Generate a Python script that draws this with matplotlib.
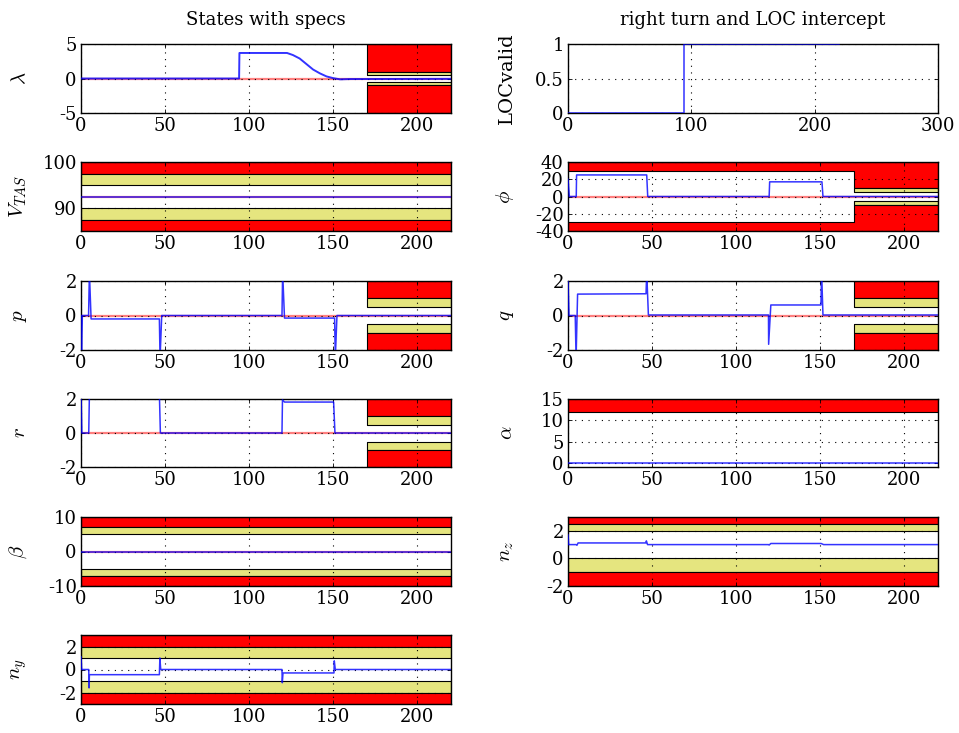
import matplotlib
matplotlib.use('Agg')
import matplotlib.pyplot as plt
import numpy as np

plt.rcParams['font.family'] = 'DejaVu Serif'
plt.rcParams['mathtext.fontset'] = 'cm'
plt.rcParams['axes.unicode_minus'] = False
plt.rcParams['font.size'] = 13

RED = '#ff0000'
YEL = '#e5e57f'

# time histories (t [s], value)
lam_t = [0, 94, 94.2, 122.5, 126, 130, 134, 138, 142, 146, 150, 154, 160, 220]
lam_v = [0, 0, 3.7, 3.7, 3.4, 2.9, 2.1, 1.3, 0.75, 0.3, 0.05, -0.12, -0.08, -0.05]

loc_t = [0, 94, 94, 220]
loc_v = [0, 0, 1, 1]

vtas_t = [0, 220]
vtas_v = [92.5, 92.5]

phi_t = [0, 0.8, 4.9, 5.1, 46.8, 47.4, 119.6, 119.9, 151.0, 151.6, 220]
phi_v = [20, 0, 0, 25, 25, 0, 0, 17, 17, 0, 0]

p_t = [0, 0.3, 0.8, 4.5, 5.0, 6.0, 46.6, 47.0, 48.0, 119.5, 119.9, 121.0, 150.8, 151.2, 152.2, 220]
p_v = [0, -2.5, 0, 0, 2.5, -0.2, -0.2, -2.5, 0, 0, 2.5, -0.15, -0.15, -2.5, 0, 0]

q_t = [0, 0.6, 4.3, 4.8, 5.7, 46.4, 46.8, 47.8, 119.2, 119.3, 120.6, 150.4, 150.8, 151.6, 220]
q_v = [2.0, 0, 0, -2.5, 1.24, 1.26, 2.5, 0.03, 0.03, -1.67, 0.61, 0.61, 2.5, 0.03, 0.03]

r_t = [0, 0.5, 4.6, 5.0, 46.6, 47.2, 119.5, 119.8, 121, 150.2, 151, 220]
r_v = [2.3, 0, 0, 2.3, 2.3, 0, 0, 1.95, 1.82, 1.82, 0, 0]

alpha_t = [0, 220]
alpha_v = [0.15, 0.15]

beta_t = [0, 220]
beta_v = [0, 0]

nz_t = [0, 0.4, 4.9, 5.3, 6.0, 46.3, 46.6, 47.3, 119.2, 119.6, 120.6, 150.5, 152.0, 220]
nz_v = [1.7, 1.0, 1.0, 0.95, 1.12, 1.12, 1.27, 1.0, 1.0, 0.97, 1.08, 1.08, 1.0, 1.0]

ny_t = [0, 0.4, 4.6, 4.8, 5.0, 46.6, 46.9, 47.4, 119.5, 119.7, 120.1, 150.4, 150.6, 151.2, 220]
ny_v = [1.1, 0, 0, -1.6, -0.45, -0.45, 1.0, 0, 0, -1.15, -0.3, -0.3, 0.75, 0, 0]

# spec bands: (t breakpoints, lower, upper, colour)
late = [170, 220]
full = [0, 220]
lam_spec = [(late, [1, 1], [5, 5], RED), (late, [0.5, 0.5], [1, 1], YEL),
            (late, [-1, -1], [-0.5, -0.5], YEL), (late, [-5, -5], [-1, -1], RED)]
vtas_spec = [(full, [97.5, 97.5], [100, 100], RED), (full, [95, 95], [97.5, 97.5], YEL),
             (full, [87.5, 87.5], [90, 90], YEL), (full, [85, 85], [87.5, 87.5], RED)]
phi_spec = [([0, 170, 220], [30, 10, 10], [40, 40, 40], RED), (late, [5, 5], [10, 10], YEL),
            (late, [-10, -10], [-5, -5], YEL), ([0, 170, 220], [-40, -40, -40], [-30, -10, -10], RED)]
rate_spec = [(late, [1, 1], [2, 2], RED), (late, [0.5, 0.5], [1, 1], YEL),
             (late, [-1, -1], [-0.5, -0.5], YEL), (late, [-2, -2], [-1, -1], RED)]
alpha_spec = [(full, [12, 12], [15, 15], RED)]
beta_spec = [(full, [7, 7], [10, 10], RED), (full, [5, 5], [7, 7], YEL),
             (full, [-7, -7], [-5, -5], YEL), (full, [-10, -10], [-7, -7], RED)]
nz_spec = [(full, [2.5, 2.5], [3, 3], RED), (full, [2, 2], [2.5, 2.5], YEL),
           (full, [-1, -1], [0, 0], YEL), (full, [-2, -2], [-1, -1], RED)]
ny_spec = [(full, [2, 2], [3, 3], RED), (full, [1, 1], [2, 2], YEL),
           (full, [-2, -2], [-1, -1], YEL), (full, [-3, -3], [-2, -2], RED)]

fig = plt.figure(figsize=(9.59, 7.33), dpi=100)

W, H = 959.0, 733.0
col_x = [81, 568]
rows = [(44, 113), (162, 231), (281, 350), (399, 467), (517, 586), (635, 704)]


def make_ax(col, row):
    top, bot = rows[row]
    return fig.add_axes([col_x[col] / W, 1 - bot / H, 370 / W, (bot - top) / H])


def setup(ax, label, ylim, yticks, xlim=(0, 220), xticks=(0, 50, 100, 150, 200)):
    ax.set_xlim(*xlim)
    ax.set_ylim(*ylim)
    ax.set_xticks(xticks)
    ax.set_yticks(yticks)
    ax.set_ylabel(label, fontsize=15)
    ax.yaxis.set_label_coords(-0.14, 0.5)
    ax.tick_params(direction='in', top=True, right=True, length=3, width=0.6, labelsize=13, pad=3)
    ax.grid(True, linestyle=(0, (1, 5)), color='k', linewidth=0.8)
    ax.set_axisbelow(False)
    for s in ax.spines.values():
        s.set_linewidth(1.0)


def specs(ax, bands):
    for t, lo, hi, col in bands:
        ax.fill_between(t, lo, hi, step='post', facecolor=col, edgecolor='k', linewidth=0.8, zorder=1)


def traces(ax, t, v, ref=None, lw=1.1):
    if ref is not None:
        ax.plot([0, 220], [ref, ref], color=RED, linewidth=1.6, alpha=0.5, zorder=2)
    ax.plot(t, v, color='#0000ff', linewidth=lw, alpha=0.8, zorder=3)


# left column
ax = make_ax(0, 0)
specs(ax, lam_spec); traces(ax, lam_t, lam_v, 0, lw=1.4)
setup(ax, r'$\lambda$', (-5, 5), [-5, 0, 5])
ax.set_title('States with specs', fontsize=13, pad=14)

ax = make_ax(0, 1)
specs(ax, vtas_spec); traces(ax, vtas_t, vtas_v, 92.5)
setup(ax, r'$V_{TAS}$', (85, 100), [90, 100])

ax = make_ax(0, 2)
specs(ax, rate_spec); traces(ax, p_t, p_v, 0)
setup(ax, r'$p$', (-2, 2), [-2, 0, 2])

ax = make_ax(0, 3)
specs(ax, rate_spec); traces(ax, r_t, r_v, 0)
setup(ax, r'$r$', (-2, 2), [-2, 0, 2])

ax = make_ax(0, 4)
specs(ax, beta_spec); traces(ax, beta_t, beta_v, 0)
setup(ax, r'$\beta$', (-10, 10), [-10, 0, 10])

ax = make_ax(0, 5)
specs(ax, ny_spec); traces(ax, ny_t, ny_v)
setup(ax, r'$n_y$', (-3, 3), [-2, 0, 2])

# right column
ax = make_ax(1, 0)
traces(ax, loc_t, loc_v)
setup(ax, 'LOCvalid', (0, 1), [0, 0.5, 1], xlim=(0, 300), xticks=(0, 100, 200, 300))
ax.yaxis.label.set_size(14)
ax.set_yticklabels(['0', '0.5', '1'])
ax.set_title('right turn and LOC intercept', fontsize=13, pad=14)

ax = make_ax(1, 1)
specs(ax, phi_spec); traces(ax, phi_t, phi_v, 0)
setup(ax, r'$\phi$', (-40, 40), [-40, -20, 0, 20, 40])

ax = make_ax(1, 2)
specs(ax, rate_spec); traces(ax, q_t, q_v, 0)
setup(ax, r'$q$', (-2, 2), [-2, 0, 2])

ax = make_ax(1, 3)
specs(ax, alpha_spec); traces(ax, alpha_t, alpha_v)
setup(ax, r'$\alpha$', (-0.85, 15), [0, 5, 10, 15])

ax = make_ax(1, 4)
specs(ax, nz_spec); traces(ax, nz_t, nz_v)
setup(ax, r'$n_z$', (-2, 3), [-2, 0, 2])

fig.savefig('out.png', dpi=100)
